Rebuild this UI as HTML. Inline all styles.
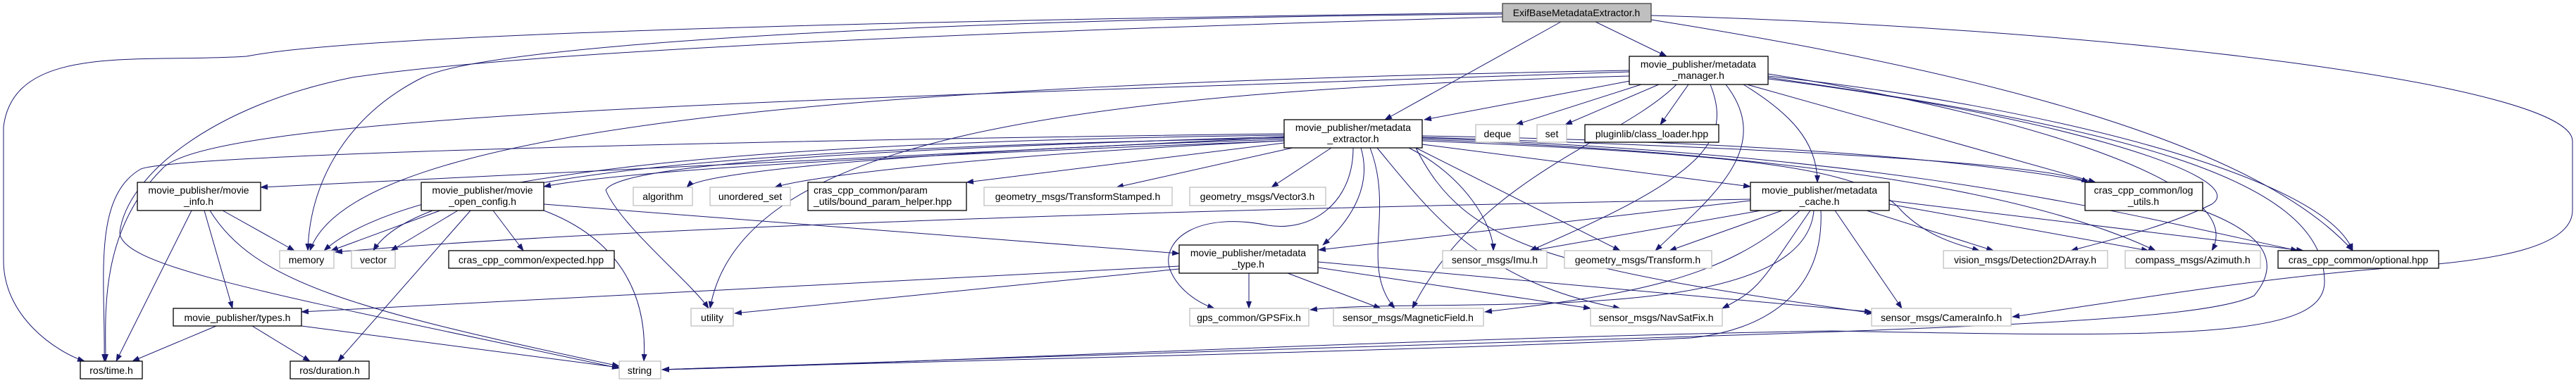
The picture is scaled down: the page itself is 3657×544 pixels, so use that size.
<!DOCTYPE html>
<html><head><meta charset="utf-8"><style>
html,body{margin:0;padding:0;background:#fff;}
svg{display:block;}
text{font-family:"Liberation Sans",sans-serif;font-size:14px;fill:#000;}
.e{fill:none;stroke:#191970;stroke-width:1;marker-end:url(#a);}
.b{fill:#fff;stroke:#000;stroke-width:1.3;}
.g{fill:#fff;stroke:#bfbfbf;stroke-width:1.3;}
</style></head><body>
<svg width="3657" height="544" viewBox="0 0 3657 544" xmlns="http://www.w3.org/2000/svg">
<defs><marker id="a" markerWidth="11" markerHeight="8" refX="10" refY="4" orient="auto" markerUnits="userSpaceOnUse"><path d="M0,0 L11,4 L0,8 z" fill="#191970"/></marker></defs>
<g>
<path class="e" d="M2265,31 L2366,80"/>
<path class="e" d="M2216,31 L1966,170"/>
<path class="e" d="M2133,20 C1400,25 700,60 600,110 C500,160 440,250 437,356"/>
<path class="e" d="M2133,18 C1200,30 500,50 350,80 C200,90 20,60 5,180 L5,370 C5,450 80,500 120,513"/>
<path class="e" d="M2133,24 C1200,50 700,80 500,110 C300,150 180,250 170,330 C170,380 400,420 879,523"/>
<path class="e" d="M2344,28 C2800,100 3200,200 3340,356"/>
<path class="e" d="M2344,22 C3000,40 3650,120 3652,200 L3652,300 C3650,350 3550,370 3400,380 C3200,395 3000,430 2857,450"/>
<path class="e" d="M2330,112 L2022,170"/>
<path class="e" d="M2330,120 L2152,177"/>
<path class="e" d="M2355,120 L2222,177"/>
<path class="e" d="M2397,120 L2357,177"/>
<path class="e" d="M2475,120 C2540,160 2580,200 2580,259"/>
<path class="e" d="M2480,120 L2975,259"/>
<path class="e" d="M2428,120 C2460,200 2420,250 2172,356"/>
<path class="e" d="M2450,120 C2520,210 2430,280 2350,356"/>
<path class="e" d="M2510,105 C2800,150 3200,250 3140,356"/>
<path class="e" d="M2510,108 C2900,150 3300,250 3340,356"/>
<path class="e" d="M2313,100 C1200,120 500,180 440,356"/>
<path class="e" d="M2313,102 C1200,140 300,160 230,240 C140,330 150,450 150,513"/>
<path class="e" d="M2313,108 C1500,130 1050,200 1008,438"/>
<path class="e" d="M2510,110 C3000,180 3300,250 3300,400 C3300,480 3100,480 2600,470 C2000,480 1200,520 940,525"/>
<path class="e" d="M2380,120 C2300,200 2100,250 2005,438"/>
<path class="e" d="M2510,112 C2900,160 3200,250 3140,290 C3080,320 3000,340 2940,356"/>
<path class="e" d="M1823,195 L370,266"/>
<path class="e" d="M1823,200 C1300,220 900,240 772,265"/>
<path class="e" d="M1823,198 C1400,210 1000,240 975,266"/>
<path class="e" d="M1823,200 C1400,220 1150,250 1100,266"/>
<path class="e" d="M1823,203 L1372,259"/>
<path class="e" d="M1835,210 L1585,266"/>
<path class="e" d="M1890,210 L1805,266"/>
<path class="e" d="M1932,210 C1950,270 1910,320 1878,348"/>
<path class="e" d="M1823,192 C1200,200 600,230 460,356"/>
<path class="e" d="M1823,196 C1100,210 600,240 530,356"/>
<path class="e" d="M1823,194 C1300,210 880,230 860,270 C880,320 980,400 1006,438"/>
<path class="e" d="M1823,190 C1000,200 250,220 200,240 C130,280 150,400 148,513"/>
<path class="e" d="M1921,210 C1921,290 1860,330 1800,320 C1700,300 1650,340 1660,380 C1670,410 1700,430 1724,438"/>
<path class="e" d="M1945,210 C1980,300 1930,380 1980,438"/>
<path class="e" d="M1955,210 C2030,300 2100,400 2300,438"/>
<path class="e" d="M2000,210 C2080,250 2120,320 2120,356"/>
<path class="e" d="M2010,210 L2300,356"/>
<path class="e" d="M2019,205 L2485,265"/>
<path class="e" d="M2019,195 C2500,210 2900,230 2965,259"/>
<path class="e" d="M2019,200 C2500,220 2650,240 2700,300 C2740,340 2790,350 2810,356"/>
<path class="e" d="M2019,198 C2600,220 2900,280 3060,356"/>
<path class="e" d="M2019,196 C2700,220 3000,300 3262,356"/>
<path class="e" d="M2010,210 C2080,350 2200,380 2660,445"/>
<path class="e" d="M2019,193 C3000,210 3300,300 3200,420 C3100,470 2500,470 940,525"/>
<path class="e" d="M2485,285 L1872,355"/>
<path class="e" d="M2485,283 C1500,300 800,330 476,358"/>
<path class="e" d="M2500,299 L2175,356"/>
<path class="e" d="M2530,299 L2370,356"/>
<path class="e" d="M2650,299 L2830,356"/>
<path class="e" d="M2682,290 L3050,356"/>
<path class="e" d="M2682,285 L3270,356"/>
<path class="e" d="M2555,299 C2450,400 2300,420 2108,443"/>
<path class="e" d="M2570,299 C2500,400 2500,410 2445,438"/>
<path class="e" d="M2575,299 C2560,470 2050,420 1860,440"/>
<path class="e" d="M2605,299 L2700,438"/>
<path class="e" d="M2585,299 C2590,420 2500,470 2400,480 C2000,500 1200,515 940,525"/>
<path class="e" d="M1674,378 L428,443"/>
<path class="e" d="M1674,382 L1043,445"/>
<path class="e" d="M1773,388 L1773,438"/>
<path class="e" d="M1828,388 L1960,438"/>
<path class="e" d="M1871,380 L2258,438"/>
<path class="e" d="M1871,372 L2657,443"/>
<path class="e" d="M316,299 L418,356"/>
<path class="e" d="M272,299 L165,513"/>
<path class="e" d="M290,299 L330,438"/>
<path class="e" d="M298,299 C360,400 500,440 879,520"/>
<path class="e" d="M625,299 L470,356"/>
<path class="e" d="M650,299 L555,356"/>
<path class="e" d="M700,299 L743,356"/>
<path class="e" d="M668,299 L480,513"/>
<path class="e" d="M772,299 C880,340 920,420 914,513"/>
<path class="e" d="M772,290 L1674,360"/>
<path class="e" d="M307,463 L188,513"/>
<path class="e" d="M358,463 L440,513"/>
<path class="e" d="M428,463 L879,522"/>
</g>
<g>
<rect x="2133" y="5" width="211" height="26" fill="#bfbfbf" stroke="#404040" stroke-width="1.3"/><text x="2238" y="23" text-anchor="middle">ExifBaseMetadataExtractor.h</text>
<rect class="b" x="2313" y="80" width="197" height="40"/><text x="2411" y="96" text-anchor="middle">movie_publisher/metadata</text><text x="2411" y="112" text-anchor="middle">_manager.h</text>
<rect class="b" x="1823" y="170" width="196" height="40"/><text x="1921" y="186" text-anchor="middle">movie_publisher/metadata</text><text x="1921" y="202" text-anchor="middle">_extractor.h</text>
<rect class="b" x="2485" y="259" width="197" height="40"/><text x="2583" y="275" text-anchor="middle">movie_publisher/metadata</text><text x="2583" y="291" text-anchor="middle">_cache.h</text>
<rect class="b" x="195" y="259" width="175" height="40"/><text x="282" y="275" text-anchor="middle">movie_publisher/movie</text><text x="282" y="291" text-anchor="middle">_info.h</text>
<rect class="b" x="598" y="259" width="174" height="40"/><text x="685" y="275" text-anchor="middle">movie_publisher/movie</text><text x="685" y="291" text-anchor="middle">_open_config.h</text>
<rect class="b" x="1147" y="259" width="225" height="40"/><text x="1155" y="275">cras_cpp_common/param</text><text x="1155" y="291">_utils/bound_param_helper.hpp</text>
<rect class="b" x="2960" y="259" width="167" height="40"/><text x="3043" y="275" text-anchor="middle">cras_cpp_common/log</text><text x="3043" y="291" text-anchor="middle">_utils.h</text>
<rect class="g" x="899" y="266" width="84" height="26"/><text x="941" y="284" text-anchor="middle">algorithm</text>
<rect class="g" x="1008" y="266" width="114" height="26"/><text x="1065" y="284" text-anchor="middle">unordered_set</text>
<rect class="g" x="1397" y="266" width="267" height="26"/><text x="1530" y="284" text-anchor="middle">geometry_msgs/TransformStamped.h</text>
<rect class="g" x="1689" y="266" width="193" height="26"/><text x="1785" y="284" text-anchor="middle">geometry_msgs/Vector3.h</text>
<rect class="g" x="2095" y="177" width="62" height="25"/><text x="2126" y="195" text-anchor="middle">deque</text>
<rect class="g" x="2182" y="177" width="42" height="25"/><text x="2203" y="195" text-anchor="middle">set</text>
<rect class="b" x="2250" y="177" width="190" height="25"/><text x="2345" y="195" text-anchor="middle">pluginlib/class_loader.hpp</text>
<rect class="g" x="397" y="356" width="77" height="25"/><text x="435" y="374" text-anchor="middle">memory</text>
<rect class="g" x="499" y="356" width="62" height="25"/><text x="530" y="374" text-anchor="middle">vector</text>
<rect class="b" x="637" y="356" width="235" height="25"/><text x="754" y="374" text-anchor="middle">cras_cpp_common/expected.hpp</text>
<rect class="b" x="1674" y="348" width="197" height="40"/><text x="1772" y="364" text-anchor="middle">movie_publisher/metadata</text><text x="1772" y="380" text-anchor="middle">_type.h</text>
<rect class="g" x="2048" y="356" width="148" height="25"/><text x="2122" y="374" text-anchor="middle">sensor_msgs/Imu.h</text>
<rect class="g" x="2221" y="356" width="209" height="25"/><text x="2325" y="374" text-anchor="middle">geometry_msgs/Transform.h</text>
<rect class="g" x="2759" y="356" width="233" height="25"/><text x="2875" y="374" text-anchor="middle">vision_msgs/Detection2DArray.h</text>
<rect class="g" x="3017" y="356" width="192" height="25"/><text x="3113" y="374" text-anchor="middle">compass_msgs/Azimuth.h</text>
<rect class="b" x="3234" y="356" width="228" height="25"/><text x="3348" y="374" text-anchor="middle">cras_cpp_common/optional.hpp</text>
<rect class="b" x="246" y="438" width="182" height="25"/><text x="337" y="456" text-anchor="middle">movie_publisher/types.h</text>
<rect class="g" x="981" y="438" width="60" height="25"/><text x="1011" y="456" text-anchor="middle">utility</text>
<rect class="g" x="1689" y="438" width="169" height="25"/><text x="1773" y="456" text-anchor="middle">gps_common/GPSFix.h</text>
<rect class="g" x="1893" y="438" width="213" height="25"/><text x="1999" y="456" text-anchor="middle">sensor_msgs/MagneticField.h</text>
<rect class="g" x="2258" y="438" width="187" height="25"/><text x="2351" y="456" text-anchor="middle">sensor_msgs/NavSatFix.h</text>
<rect class="g" x="2657" y="438" width="198" height="25"/><text x="2756" y="456" text-anchor="middle">sensor_msgs/CameraInfo.h</text>
<rect class="b" x="114" y="513" width="88" height="25"/><text x="158" y="531" text-anchor="middle">ros/time.h</text>
<rect class="b" x="412" y="513" width="112" height="25"/><text x="468" y="531" text-anchor="middle">ros/duration.h</text>
<rect class="g" x="879" y="513" width="59" height="25"/><text x="908" y="531" text-anchor="middle">string</text>
</g>
</svg>
</body></html>
